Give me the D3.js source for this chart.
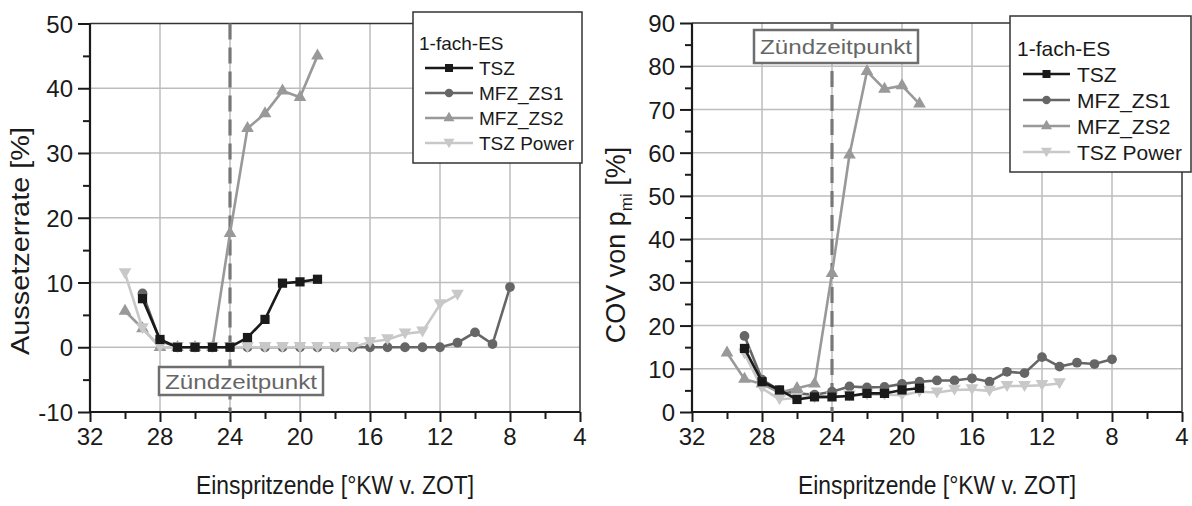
<!DOCTYPE html>
<html>
<head>
<meta charset="utf-8">
<script src="https://cdn.jsdelivr.net/npm/d3@7"></script>
<style>
  body { margin: 0; background: #fff; }
  svg { display: block; font-family: Arial, "Liberation Sans", sans-serif; }
</style>
</head>
<body>
<svg id="chart" width="1192" height="506"></svg>
<script>
const width = 1192;
const height = 506;

// x positions (Einspritzende) of each series
const tszX = [29, 28, 27, 26, 25, 24, 23, 22, 21, 20, 19];
const zs1X = [29, 28, 27, 26, 25, 24, 23, 22, 21, 20, 19, 18, 17, 16, 15, 14, 13, 12, 11, 10, 9, 8];
const zs2X = [30, 29, 28, 27, 26, 25, 24, 23, 22, 21, 20, 19];
const powerAusX = [30, 29, 28, 27, 26, 25, 24, 23, 22, 21, 20, 19, 18, 17, 16, 15, 14, 13, 12, 11];
const powerCovX = [29, 28, 27, 26, 25, 24, 23, 22, 21, 20, 19, 18, 17, 16, 15, 14, 13, 12, 11];

// Aussetzerrate [%]
const tszAus = [7.5, 1.2, 0, 0, 0, 0, 1.5, 4.3, 9.9, 10.1, 10.5];
const zs1Aus = [8.3, 1.0, 0, 0, 0, 0, 0, 0, 0, 0, 0, 0, 0, 0, 0, 0, 0, 0, 0.7, 2.3, 0.5, 9.3];
const zs2Aus = [5.6, 2.9, 0, 0, 0, 0, 17.6, 33.8, 36.1, 39.6, 38.6, 45.0];
const powerAus = [11.4, 2.9, 0, 0, 0, 0, 0, 0, 0, 0, 0, 0, 0, 0, 0.8, 1.2, 2.1, 2.4, 6.6, 8.1];

// COV von p_mi [%]
const tszCov = [14.7, 7.0, 5.1, 2.9, 3.5, 3.5, 3.7, 4.3, 4.3, 5.1, 5.5];
const zs1Cov = [17.6, 7.5, 5.0, 4.3, 4.0, 4.7, 5.9, 5.7, 5.8, 6.5, 7.0, 7.3, 7.3, 7.8, 7.0, 9.3, 9.0, 12.7, 10.5, 11.4, 11.1, 12.2];
const zs2Cov = [13.7, 7.6, 6.5, 4.5, 5.5, 6.5, 32.1, 59.5, 78.8, 74.7, 75.5, 71.3];
const powerCov = [13.5, 5.5, 2.9, 3.3, 3.3, 3.4, 3.8, 4.0, 4.0, 3.9, 4.7, 4.5, 5.1, 5.2, 4.9, 6.0, 6.0, 6.2, 6.6];

const seriesNames = ["TSZ", "MFZ_ZS1", "MFZ_ZS2", "TSZ Power"];
const legendTitle = "1-fach-ES";
const xTicks = [32, 28, 24, 20, 16, 12, 8, 4];
const ignitionX = 24;
const ignitionLabel = "Zündzeitpunkt";
const xTitle = "Einspritzende [°KW v. ZOT]";

const styles = {
  "TSZ":       { color: "#1a1a1a", symbol: d3.symbolSquare,   size: 85, rot: 0 },
  "MFZ_ZS1":   { color: "#666666", symbol: d3.symbolCircle,   size: 75, rot: 0 },
  "MFZ_ZS2":   { color: "#999999", symbol: d3.symbolTriangle, size: 70, rot: 0 },
  "TSZ Power": { color: "#c8c8c8", symbol: d3.symbolTriangle, size: 70, rot: 180 }
};
// draw order: circles, triangles, down triangles, squares on top
const drawOrder = ["MFZ_ZS1", "MFZ_ZS2", "TSZ Power", "TSZ"];

const svg = d3.select("#chart");

function drawPanel(cfg) {
  const x = d3.scaleLinear().domain([32, 4]).range([cfg.left, cfg.right]);
  const y = d3.scaleLinear().domain(cfg.yDomain).range([cfg.bottom, cfg.top]);
  const g = svg.append("g");

  // grid
  const yMajor = d3.range(cfg.yDomain[0], cfg.yDomain[1] + 0.01, 10);
  g.append("g").selectAll("line").data(yMajor.slice(1, -1)).join("line")
    .attr("x1", cfg.left).attr("x2", cfg.right)
    .attr("y1", d => y(d)).attr("y2", d => y(d))
    .attr("stroke", "#bdbdbd").attr("stroke-width", 1.5);
  g.append("g").selectAll("line").data(xTicks.slice(1, -1)).join("line")
    .attr("x1", d => x(d)).attr("x2", d => x(d))
    .attr("y1", cfg.top).attr("y2", cfg.bottom)
    .attr("stroke", "#bdbdbd").attr("stroke-width", 1.5);

  // frame top/right
  g.append("path")
    .attr("d", `M${cfg.left},${cfg.top}H${cfg.right}V${cfg.bottom}`)
    .attr("fill", "none").attr("stroke", "#333").attr("stroke-width", 1.5);

  // axes
  const xAxis = d3.axisBottom(x).tickValues(d3.range(32, 3.9, -2))
    .tickSize(0).tickFormat("");
  const gx = g.append("g").attr("transform", `translate(0,${cfg.bottom})`);
  gx.call(xAxis);
  gx.select(".domain").remove();
  gx.selectAll(".tick line").attr("y2", d => d % 4 === 0 ? 10 : 7)
    .attr("stroke", "#1a1a1a").attr("stroke-width", 2);
  g.append("g").attr("transform", `translate(0,${cfg.bottom})`)
    .selectAll("text").data(xTicks).join("text")
    .attr("x", d => x(d)).attr("y", 33)
    .attr("text-anchor", "middle").attr("font-size", 24).attr("fill", "#1a1a1a")
    .text(d => d);

  const yTickVals = d3.range(cfg.yDomain[0], cfg.yDomain[1] + 0.01, 5);
  const gy = g.append("g").attr("transform", `translate(${cfg.left},0)`);
  gy.call(d3.axisLeft(y).tickValues(yTickVals).tickSize(0).tickFormat(""));
  gy.select(".domain").remove();
  gy.selectAll(".tick line").attr("x2", d => d % 10 === 0 ? -12 : -7)
    .attr("stroke", "#1a1a1a").attr("stroke-width", 2);
  gy.selectAll(".tick").filter(d => d % 10 === 0).append("text")
    .attr("x", -17).attr("dy", "0.36em")
    .attr("text-anchor", "end").attr("font-size", 24).attr("fill", "#1a1a1a")
    .text(d => d);

  g.append("path")
    .attr("d", `M${cfg.left},${cfg.top}V${cfg.bottom}H${cfg.right}`)
    .attr("fill", "none").attr("stroke", "#1a1a1a").attr("stroke-width", 2.2);

  // titles
  g.append("text")
    .attr("x", (cfg.left + cfg.right) / 2).attr("y", cfg.bottom + 82)
    .attr("text-anchor", "middle").attr("font-size", 25).attr("fill", "#1a1a1a")
    .attr("textLength", 278).attr("lengthAdjust", "spacingAndGlyphs")
    .text(xTitle);
  const yt = g.append("text")
    .attr("transform", `translate(${cfg.yTitleX},${cfg.yTitleY}) rotate(-90)`)
    .attr("text-anchor", "middle").attr("font-size", cfg.yTitleSize).attr("fill", "#1a1a1a");
  cfg.yTitle(yt);

  // ignition line
  g.append("line")
    .attr("x1", x(ignitionX)).attr("x2", x(ignitionX))
    .attr("y1", cfg.top).attr("y2", cfg.bottom)
    .attr("stroke", "#777").attr("stroke-width", 3.2)
    .attr("stroke-dasharray", "16,8");

  // label box
  const b = cfg.ignBox;
  g.append("rect").attr("x", b.x).attr("y", b.y).attr("width", b.w).attr("height", b.h)
    .attr("fill", "#fff").attr("stroke", "#6e6e6e").attr("stroke-width", 2.5);
  g.append("text").attr("x", b.x + b.w / 2).attr("y", b.y + b.h / 2).attr("dy", "0.36em")
    .attr("text-anchor", "middle").attr("font-size", 21).attr("fill", "#666")
    .attr("textLength", 152).attr("lengthAdjust", "spacingAndGlyphs")
    .text(ignitionLabel);

  // series
  const line = d3.line().x(d => x(d[0])).y(d => y(d[1]));
  drawOrder.forEach(name => {
    const s = cfg.series[name];
    const st = styles[name];
    const pts = s.x.map((v, i) => [v, s.y[i]]);
    g.append("path").datum(pts).attr("d", line)
      .attr("fill", "none").attr("stroke", st.color).attr("stroke-width", 2.6);
    g.append("g").selectAll("path").data(pts).join("path")
      .attr("d", d3.symbol(st.symbol, st.size))
      .attr("transform", d => `translate(${x(d[0])},${y(d[1]) + (st.rot ? -1.5 : 0)}) rotate(${st.rot})`)
      .attr("fill", st.color);
  });

  // legend
  const L = cfg.legend;
  const lg = svg.append("g");
  lg.append("rect").attr("x", L.x).attr("y", L.y).attr("width", L.w).attr("height", L.h)
    .attr("fill", "#fff").attr("stroke", "#333").attr("stroke-width", 1.5);
  lg.append("text").attr("x", L.lx1 - 6).attr("y", L.y0).attr("dy", "0.36em")
    .attr("font-size", L.fs).attr("fill", "#1a1a1a").text(legendTitle);
  seriesNames.forEach((name, i) => {
    const st = styles[name];
    const yy = L.y0 + (i + 1) * L.step;
    lg.append("line").attr("x1", L.lx1).attr("x2", L.lx2).attr("y1", yy).attr("y2", yy)
      .attr("stroke", st.color).attr("stroke-width", 2.6);
    lg.append("path").attr("d", d3.symbol(st.symbol, st.size * 0.75))
      .attr("transform", `translate(${(L.lx1 + L.lx2) / 2},${yy + (st.rot ? -1 : 0)}) rotate(${st.rot})`)
      .attr("fill", st.color);
    lg.append("text").attr("x", L.tx).attr("y", yy).attr("dy", "0.36em")
      .attr("font-size", L.fs).attr("fill", "#1a1a1a").text(name);
  });
}

drawPanel({
  left: 90, right: 580, top: 23.5, bottom: 412,
  yDomain: [-10, 50],
  yTitleX: 29, yTitleY: 241, yTitleSize: 25,
  yTitle: t => t.attr("textLength", 228).attr("lengthAdjust", "spacingAndGlyphs")
    .text("Aussetzerrate [%]"),
  ignBox: { x: 159, y: 367, w: 164, h: 28 },
  series: {
    "TSZ": { x: tszX, y: tszAus },
    "MFZ_ZS1": { x: zs1X, y: zs1Aus },
    "MFZ_ZS2": { x: zs2X, y: zs2Aus },
    "TSZ Power": { x: powerAusX, y: powerAus }
  },
  legend: { x: 413, y: 12, w: 169, h: 151, y0: 43, step: 25, lx1: 425, lx2: 473, tx: 479, fs: 19 }
});

drawPanel({
  left: 692, right: 1182, top: 23, bottom: 412,
  yDomain: [0, 90],
  yTitleX: 625, yTitleY: 245, yTitleSize: 27,
  yTitle: t => {
    t.append("tspan").text("COV von p");
    t.append("tspan").attr("font-size", 17).attr("dy", 7).text("mi");
    t.append("tspan").attr("dy", -7).text(" [%]");
  },
  ignBox: { x: 754, y: 30, w: 164, h: 33 },
  series: {
    "TSZ": { x: tszX, y: tszCov },
    "MFZ_ZS1": { x: zs1X, y: zs1Cov },
    "MFZ_ZS2": { x: zs2X, y: zs2Cov },
    "TSZ Power": { x: powerCovX, y: powerCov }
  },
  legend: { x: 1010, y: 16, w: 181, h: 156, y0: 48, step: 26, lx1: 1023, lx2: 1070, tx: 1077, fs: 21 }
});
</script>
</body>
</html>
